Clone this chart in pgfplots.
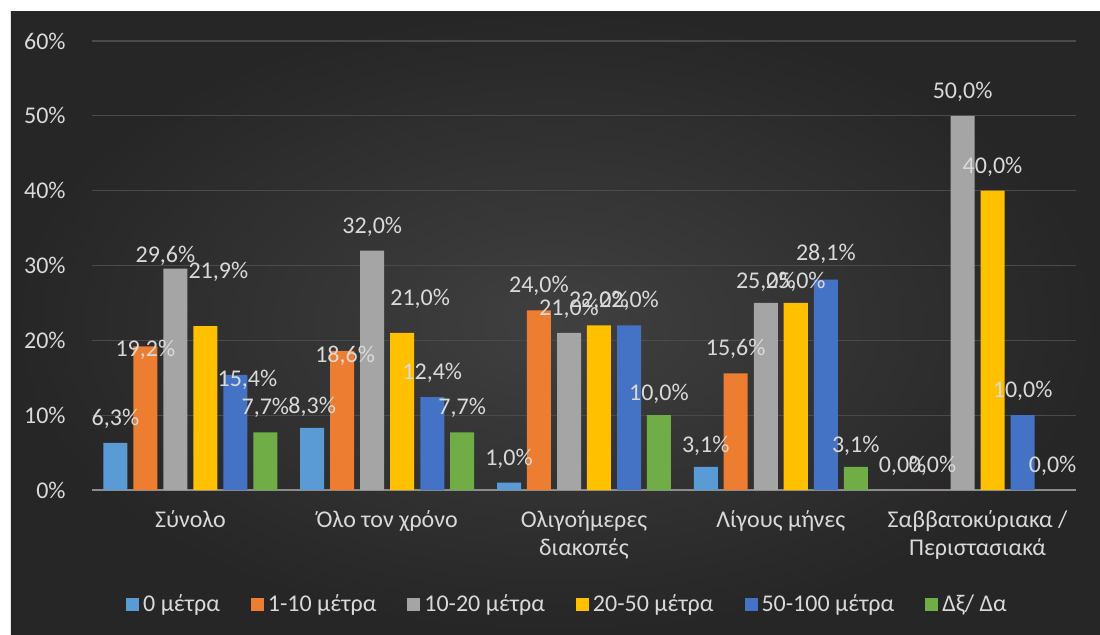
\documentclass[border=0pt]{standalone}
\usepackage{pgfplots}
\usepackage{pgfplotstable}
\pgfplotsset{compat=1.18}
\usepackage{fontspec}
\setmainfont{Carlito}
\definecolor{c1}{HTML}{5B9BD5}
\definecolor{c2}{HTML}{ED7D31}
\definecolor{c3}{HTML}{A5A5A5}
\definecolor{c4}{HTML}{FFC000}
\definecolor{c5}{HTML}{4472C4}
\definecolor{c6}{HTML}{70AD47}
\definecolor{txt}{HTML}{D9D9D9}
\definecolor{gridc}{HTML}{4A4A4A}
\definecolor{basec}{HTML}{8C8C8C}
\definecolor{bgin}{HTML}{404040}
\definecolor{bgout}{HTML}{262626}
% x = category, y = value (%), dx/dy = label offset (pt)
\pgfplotstableread{
x y dx dy
0 6.3 0 0
1 8.3 0 -1.5
2 1.0 0 0
3 3.1 0 -1.5
4 0.0 0 0
}\sA
\pgfplotstableread{
x y dx dy
0 19.2 0 -14
1 18.6 1.5 -14.5
2 24.0 0 0
3 15.6 0 0
4 0.0 0 0
}\sB
\pgfplotstableread{
x y dx dy
0 29.6 -5 -5.5
1 32.0 0 0
2 21.0 0 0
3 25.0 0 -1.5
4 50.0 0 0
}\sC
\pgfplotstableread{
x y dx dy
0 21.9 6.5 15
1 21.0 9 5
2 22.0 0 0
3 25.0 0 -1.5
4 40.0 0 0
}\sD
\pgfplotstableread{
x y dx dy
0 15.4 6 -14.5
1 12.4 0 0
2 22.0 0 0
3 28.1 0 1
4 10.0 0 0
}\sE
\pgfplotstableread{
x y dx dy
0 7.7 0 0
1 7.7 0 0
2 10.0 0 -1.5
3 3.1 0 -1.5
4 0.0 0 0
}\sF
\begin{document}
\fontsize{12}{14}\selectfont
\begin{tikzpicture}
\fill[white] (-46pt,-72pt) rectangle (504pt,245pt);
\fill[inner color=bgin, outer color=bgout] (-40.5pt,-72pt) rectangle (504pt,239.5pt);
\begin{axis}[
  at={(0pt,0pt)}, anchor=south west,
  scale only axis, width=492pt, height=224.5pt,
  xmin=-0.5, xmax=4.5, ymin=0, ymax=60,
  ybar, bar width=0.122,
  axis line style={draw=none},
  tick style={draw=none},
  major tick length=0pt,
  ytick={0,10,20,30,40,50,60},
  yticklabel={\pgfmathprintnumber{\tick}\%},
  yticklabel style={text=txt, xshift=-9pt},
  /pgf/number format/assume math mode=true,
  xtick={0,1,2,3,4},
  xticklabels={Σύνολο, Όλο τον χρόνο, {Ολιγοήμερες\\διακοπές}, Λίγους μήνες, {Σαββατοκύριακα /\\Περιστασιακά}},
  xticklabel style={text=txt, align=center, yshift=-6pt},
  ymajorgrids, grid style={draw=gridc, line width=0.6pt},
  extra y ticks={0}, extra y tick labels={},
  extra y tick style={grid=major, major grid style={draw=basec, line width=1pt}},
  visualization depends on={\thisrow{dx} \as \dx},
  visualization depends on={\thisrow{dy} \as \dy},
  nodes near coords={\pgfmathprintnumber[fixed, fixed zerofill, precision=1, use comma]{\pgfplotspointmeta}\%},
  every node near coord/.append style={text=txt, font=\fontsize{12}{14}\selectfont, xshift=\dx pt, yshift=3pt+\dy pt},
  legend columns=6,
  legend style={at={(0.4842,-0.2561)}, anchor=center, draw=none, fill=none, text=txt,
    /tikz/every even column/.append style={column sep=13.5pt},
    /tikz/every odd column/.append style={column sep=0pt}},
  legend image code/.code={\fill[#1] (0pt,-3.25pt) rectangle (6.5pt,3.25pt);},
]
\addplot[fill=c1, draw=none, bar shift=-0.381] table[x=x, y=y] {\sA};
\addplot[fill=c2, draw=none, bar shift=-0.229] table[x=x, y=y] {\sB};
\addplot[fill=c3, draw=none, bar shift=-0.076] table[x=x, y=y] {\sC};
\addplot[fill=c4, draw=none, bar shift=0.076] table[x=x, y=y] {\sD};
\addplot[fill=c5, draw=none, bar shift=0.229] table[x=x, y=y] {\sE};
\addplot[fill=c6, draw=none, bar shift=0.381] table[x=x, y=y] {\sF};
\legend{0 μέτρα, 1-10 μέτρα, 10-20 μέτρα, 20-50 μέτρα, 50-100 μέτρα, Δξ/ Δα}
\end{axis}
\end{tikzpicture}
\end{document}
